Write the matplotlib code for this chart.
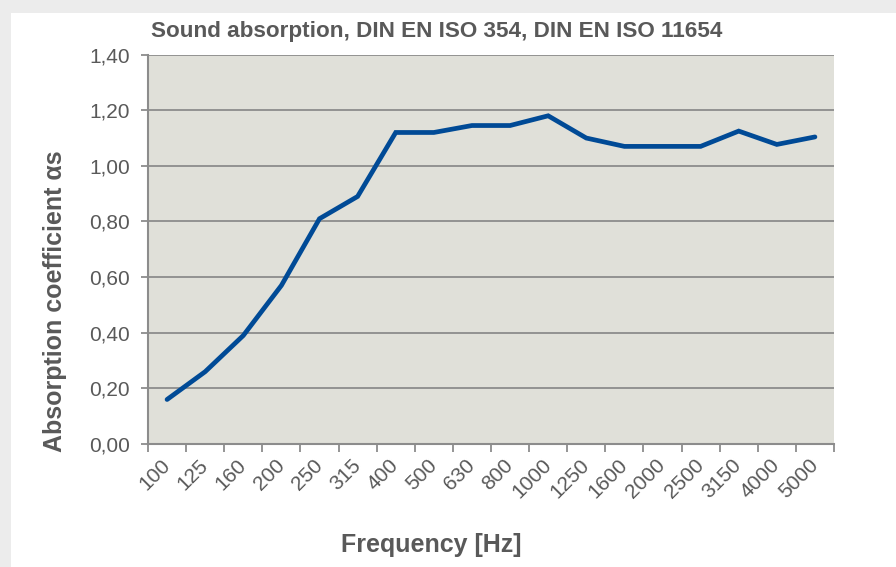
import matplotlib
matplotlib.use("Agg")
import matplotlib.pyplot as plt
from matplotlib.patches import Rectangle
import numpy as np

frequencies = ["100", "125", "160", "200", "250", "315", "400", "500", "630", "800",
               "1000", "1250", "1600", "2000", "2500", "3150", "4000", "5000"]
absorption = [0.16, 0.26, 0.39, 0.57, 0.81, 0.89, 1.12, 1.12, 1.145, 1.145,
              1.18, 1.10, 1.07, 1.07, 1.07, 1.125, 1.077, 1.104]
y_ticks = [0.0, 0.2, 0.4, 0.6, 0.8, 1.0, 1.2, 1.4]
y_tick_labels = ["0,00", "0,20", "0,40", "0,60", "0,80", "1,00", "1,20", "1,40"]

plt.rcParams['font.family'] = ['Liberation Sans', 'DejaVu Sans']
text_color = "#595959"
grid_color = "#8c8c8c"

fig = plt.figure(figsize=(8.96, 5.67), dpi=100)
fig.patch.set_facecolor("#ececec")
fig.patches.append(Rectangle((11/896, 0), 1 - 11/896, (567-13)/567,
                             transform=fig.transFigure, facecolor="white",
                             edgecolor="none", zorder=-10))

ax = fig.add_axes([148/896, (567-444)/567, (834-148)/896, (444-54.6)/567])
ax.set_facecolor("#e0e0d9")

x = np.arange(len(frequencies))
ax.plot(x, absorption, color="#004a96", linewidth=3.4, solid_joinstyle="miter",
        solid_capstyle="round", zorder=3)

ax.set_xlim(-0.5, len(frequencies) - 0.5)
ax.set_ylim(0, 1.4)
ax.set_yticks(y_ticks)
ax.set_yticklabels(y_tick_labels)
ax.yaxis.grid(True, color=grid_color, linewidth=1.3)
ax.set_axisbelow(True)

ax.set_xticks(x)
ax.set_xticklabels(frequencies, rotation=45, ha="right", va="center",
                   rotation_mode="anchor")
ax.set_xticks(np.arange(-0.5, len(frequencies)), minor=True)
ax.tick_params(axis="x", which="major", length=0, pad=13, labelsize=15,
               labelcolor=text_color)
ax.tick_params(axis="x", which="minor", length=6, width=1.3, color=grid_color,
               direction="out")
ax.tick_params(axis="y", length=5, width=1.3, color=grid_color, labelsize=15,
               labelcolor=text_color, pad=8)

for s in ["top", "right"]:
    ax.spines[s].set_visible(False)
for s in ["left", "bottom"]:
    ax.spines[s].set_color(grid_color)
    ax.spines[s].set_linewidth(1.5)

fig.text(437/896, 1 - 32/567, "Sound absorption, DIN EN ISO 354, DIN EN ISO 11654",
         ha="center", va="center", fontsize=16.2, fontweight="bold", color=text_color)
fig.text(431/896, 1 - 545/567, "Frequency [Hz]", ha="center", va="center",
         fontsize=18, fontweight="bold", color=text_color)
fig.text(55/896, 1 - 301/567, "Absorption coefficient αs", ha="center", va="center",
         rotation=90, fontsize=18, fontweight="bold", color=text_color)

fig.savefig("out.png", dpi=100)
